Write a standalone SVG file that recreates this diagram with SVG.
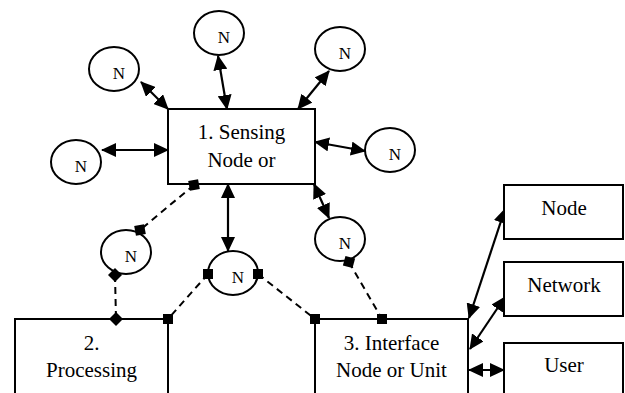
<svg xmlns="http://www.w3.org/2000/svg" width="625" height="393" viewBox="0 0 625 393">
  <defs>
    <marker id="arrow" viewBox="0 0 15 14" refX="14" refY="7" markerWidth="15" markerHeight="14" markerUnits="userSpaceOnUse" orient="auto-start-reverse">
      <path d="M0,0 L15,7 L0,14 z" fill="#000"/>
    </marker>
  </defs>
  <style>
    .box { fill: #fff; stroke: #000; stroke-width: 2; }
    .nd { fill: #fff; stroke: #000; stroke-width: 2; }
    text { font-family: "Liberation Serif", "Times New Roman", "DejaVu Serif", serif; fill: #000; text-anchor: middle; }
    .lbl { font-size: 21px; }
    .n { font-size: 17px; }
    .arr { stroke: #000; stroke-width: 2.2; fill: none; marker-start: url(#arrow); marker-end: url(#arrow); }
    .dash { stroke: #000; stroke-width: 2; fill: none; stroke-dasharray: 7 5; }
  </style>

  <!-- connectors -->
  <g id="connectors">
    <line class="arr" x1="141" y1="82" x2="168" y2="109"/>
    <line class="arr" x1="218" y1="56" x2="227" y2="109"/>
    <line class="arr" x1="329" y1="71" x2="298" y2="109"/>
    <line class="arr" x1="102" y1="150" x2="168" y2="150"/>
    <line class="arr" x1="315" y1="142" x2="365" y2="151"/>
    <line class="arr" x1="228" y1="184" x2="228" y2="251"/>
    <line class="arr" x1="314" y1="184" x2="329" y2="218"/>
    <line class="arr" x1="469" y1="318" x2="505" y2="209"/>
    <line class="arr" x1="470" y1="349" x2="505" y2="297"/>
    <line class="arr" x1="469" y1="370" x2="504" y2="370"/>

    <line class="dash" x1="194" y1="185" x2="140" y2="230"/>
    <line class="dash" x1="115" y1="275" x2="116" y2="319"/>
    <line class="dash" x1="208" y1="274" x2="168" y2="319"/>
    <line class="dash" x1="258" y1="274" x2="315" y2="319"/>
    <line class="dash" x1="349" y1="262" x2="382" y2="319"/>
  </g>

  <!-- main units -->
  <g id="sensing">
    <rect class="box" x="168" y="109" width="147" height="75"/>
    <text class="lbl" x="241.5" y="139">1. Sensing</text>
    <text class="lbl" x="241.5" y="166.5">Node or</text>
  </g>
  <g id="processing">
    <rect class="box" x="15" y="319" width="153" height="90"/>
    <text class="lbl" x="91.5" y="350">2.</text>
    <text class="lbl" x="91.5" y="377">Processing</text>
  </g>
  <g id="interface">
    <rect class="box" x="315" y="319" width="153" height="90"/>
    <text class="lbl" x="391.5" y="350">3. Interface</text>
    <text class="lbl" x="391.5" y="377">Node or Unit</text>
  </g>
  <g id="node">
    <rect class="box" x="504" y="185" width="119" height="54"/>
    <text class="lbl" x="564" y="215">Node</text>
  </g>
  <g id="network">
    <rect class="box" x="504" y="262" width="119" height="54"/>
    <text class="lbl" x="564" y="292">Network</text>
  </g>
  <g id="user">
    <rect class="box" x="504" y="343" width="119" height="70"/>
    <text class="lbl" x="564" y="372">User</text>
  </g>

  <!-- peer nodes -->
  <g id="n-top-left"><ellipse class="nd" cx="114" cy="69" rx="25" ry="22"/><text class="n" x="119" y="79">N</text></g>
  <g id="n-top"><ellipse class="nd" cx="219" cy="33" rx="25" ry="22"/><text class="n" x="224" y="43">N</text></g>
  <g id="n-top-right"><ellipse class="nd" cx="340" cy="49" rx="25" ry="22"/><text class="n" x="345" y="59">N</text></g>
  <g id="n-left"><ellipse class="nd" cx="76" cy="162" rx="25" ry="22"/><text class="n" x="81" y="172">N</text></g>
  <g id="n-right"><ellipse class="nd" cx="390" cy="150" rx="25" ry="22"/><text class="n" x="395" y="160">N</text></g>
  <g id="n-mid-left"><ellipse class="nd" cx="126" cy="252" rx="25" ry="22"/><text class="n" x="131" y="262">N</text></g>
  <g id="n-center"><ellipse class="nd" cx="233" cy="273" rx="25" ry="22"/><text class="n" x="238" y="283">N</text></g>
  <g id="n-mid-right"><ellipse class="nd" cx="340" cy="239" rx="25" ry="22"/><text class="n" x="345" y="249">N</text></g>

  <!-- endpoint marks of the dashed links -->
  <g id="marks" fill="#000">
    <rect x="189" y="180" width="10" height="10" transform="rotate(-10 194 185)"/>
    <rect x="135" y="225" width="10" height="10" transform="rotate(-10 140 230)"/>
    <path d="M115,268 L122,275 L115,282 L108,275 z"/>
    <path d="M116,312 L123,319 L116,326 L109,319 z"/>
    <rect x="203" y="269" width="10" height="10"/>
    <rect x="163" y="314" width="10" height="10"/>
    <rect x="253" y="269" width="10" height="10"/>
    <rect x="310" y="314" width="10" height="10"/>
    <rect x="344" y="257" width="10" height="10" transform="rotate(15 349 262)"/>
    <rect x="377" y="314" width="10" height="10"/>
  </g>
</svg>
